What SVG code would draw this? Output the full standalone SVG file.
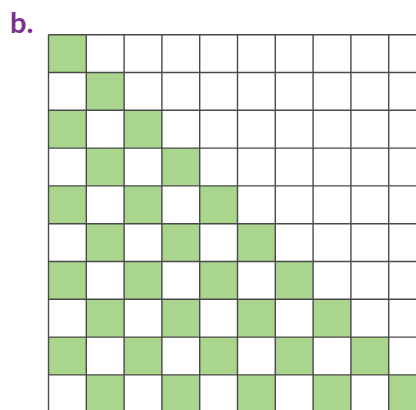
<svg xmlns="http://www.w3.org/2000/svg" width="416" height="410" viewBox="0 0 416 410">
<style>
.g{fill:#aad58c}
.ln{stroke:#4a4a4a;stroke-width:1.4;fill:none}
.lbl{font-family:"Lato","Open Sans",sans-serif;font-weight:bold;font-size:29px;fill:#7e2f8e}
</style>
<rect width="416" height="410" fill="#fff"/>
<text class="lbl" x="10" y="33">b.</text>
<g id="cells">
<rect class="g" x="48.5" y="34.7" width="37.8" height="37.8"/>
<rect class="g" x="86.3" y="72.5" width="37.8" height="37.8"/>
<rect class="g" x="48.5" y="110.3" width="37.8" height="37.8"/>
<rect class="g" x="124.1" y="110.3" width="37.8" height="37.8"/>
<rect class="g" x="86.3" y="148.1" width="37.8" height="37.8"/>
<rect class="g" x="161.9" y="148.1" width="37.8" height="37.8"/>
<rect class="g" x="48.5" y="185.9" width="37.8" height="37.8"/>
<rect class="g" x="124.1" y="185.9" width="37.8" height="37.8"/>
<rect class="g" x="199.7" y="185.9" width="37.8" height="37.8"/>
<rect class="g" x="86.3" y="223.7" width="37.8" height="37.8"/>
<rect class="g" x="161.9" y="223.7" width="37.8" height="37.8"/>
<rect class="g" x="237.5" y="223.7" width="37.8" height="37.8"/>
<rect class="g" x="48.5" y="261.5" width="37.8" height="37.8"/>
<rect class="g" x="124.1" y="261.5" width="37.8" height="37.8"/>
<rect class="g" x="199.7" y="261.5" width="37.8" height="37.8"/>
<rect class="g" x="275.3" y="261.5" width="37.8" height="37.8"/>
<rect class="g" x="86.3" y="299.3" width="37.8" height="37.8"/>
<rect class="g" x="161.9" y="299.3" width="37.8" height="37.8"/>
<rect class="g" x="237.5" y="299.3" width="37.8" height="37.8"/>
<rect class="g" x="313.1" y="299.3" width="37.8" height="37.8"/>
<rect class="g" x="48.5" y="337.1" width="37.8" height="37.8"/>
<rect class="g" x="124.1" y="337.1" width="37.8" height="37.8"/>
<rect class="g" x="199.7" y="337.1" width="37.8" height="37.8"/>
<rect class="g" x="275.3" y="337.1" width="37.8" height="37.8"/>
<rect class="g" x="350.9" y="337.1" width="37.8" height="37.8"/>
<rect class="g" x="86.3" y="374.9" width="37.8" height="37.8"/>
<rect class="g" x="161.9" y="374.9" width="37.8" height="37.8"/>
<rect class="g" x="237.5" y="374.9" width="37.8" height="37.8"/>
<rect class="g" x="313.1" y="374.9" width="37.8" height="37.8"/>
<rect class="g" x="388.7" y="374.9" width="37.8" height="37.8"/>
</g>
<g id="grid" class="ln">
<path d="M48.5 34.7V412M86.3 34.7V412M124.1 34.7V412M161.9 34.7V412M199.7 34.7V412M237.5 34.7V412M275.3 34.7V412M313.1 34.7V412M350.9 34.7V412M388.7 34.7V412"/>
<path d="M48.5 34.7H420M48.5 72.5H420M48.5 110.3H420M48.5 148.1H420M48.5 185.9H420M48.5 223.7H420M48.5 261.5H420M48.5 299.3H420M48.5 337.1H420M48.5 374.9H420"/>
</g>
</svg>
